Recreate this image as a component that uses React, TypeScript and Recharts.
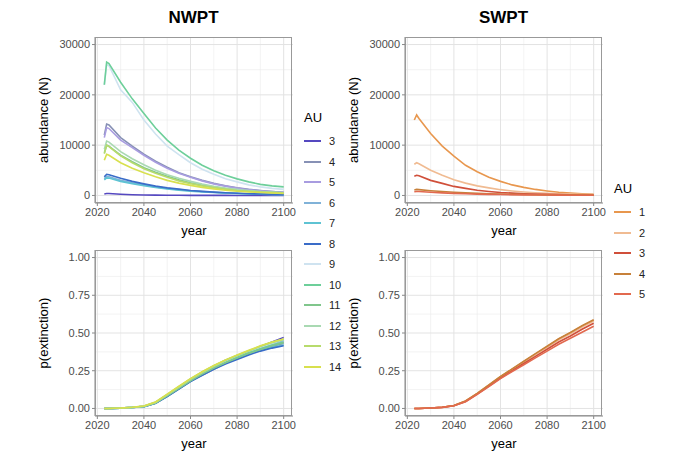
import { LineChart, Line, XAxis, YAxis, CartesianGrid } from 'recharts';

const years = [2023, 2024, 2025, 2030, 2035, 2040, 2045, 2050, 2055, 2060, 2065, 2070, 2075, 2080, 2085, 2090, 2095, 2100];
const xTicks = [2020, 2040, 2060, 2080, 2100];

const nwptAU = ['3', '4', '5', '6', '7', '8', '9', '10', '11', '12', '13', '14'];
const nwptColors = ['#5548c0', '#8791b5', '#a89ce0', '#80b2d8', '#5ec3d3', '#3a6cc8', '#cfe3f0', '#6dcf9a', '#80c68c', '#a9d9b2', '#b7db6c', '#d8e04e'];
const nwptN: number[][] = [
  [300, 400, 380, 250, 150, 100, 60, 40, 30, 20, 15, 10, 8, 5, 4, 3, 2, 2],
  [12000, 14200, 14000, 11500, 9800, 8200, 6800, 5600, 4500, 3700, 3000, 2400, 1900, 1500, 1200, 1000, 800, 650],
  [11500, 13500, 13300, 11000, 9500, 8000, 6600, 5400, 4400, 3600, 2900, 2300, 1850, 1450, 1150, 950, 780, 620],
  [3300, 3800, 3700, 3000, 2500, 2100, 1700, 1400, 1150, 950, 780, 630, 510, 410, 330, 270, 220, 180],
  [3100, 3500, 3450, 2800, 2350, 1950, 1600, 1300, 1050, 870, 710, 580, 470, 380, 300, 250, 200, 160],
  [3700, 4200, 4100, 3400, 2800, 2300, 1850, 1500, 1250, 1000, 820, 660, 540, 430, 350, 290, 230, 190],
  [22000, 26000, 25800, 21000, 18500, 15000, 12200, 9800, 8100, 6500, 5200, 4200, 3300, 2700, 2100, 1700, 1400, 1200],
  [22000, 26500, 26200, 22500, 19200, 16300, 13400, 11000, 9000, 7400, 6000, 4900, 4000, 3300, 2700, 2200, 1900, 1700],
  [8500, 10000, 9800, 8000, 6700, 5500, 4600, 3800, 3100, 2500, 2000, 1650, 1350, 1100, 900, 750, 620, 520],
  [9200, 10800, 10600, 8700, 7300, 6100, 5000, 4100, 3400, 2800, 2250, 1800, 1450, 1200, 980, 800, 660, 550],
  [8300, 10000, 9700, 7900, 6500, 5300, 4400, 3600, 2900, 2350, 1900, 1550, 1250, 1000, 820, 680, 560, 470],
  [7000, 8200, 8000, 6500, 5400, 4500, 3700, 3000, 2450, 2000, 1600, 1300, 1050, 850, 700, 580, 480, 400],
];
const nwptP: number[][] = [
  [0, 0, 0, 0.003, 0.008, 0.015, 0.04, 0.09, 0.14, 0.19, 0.24, 0.28, 0.32, 0.35, 0.38, 0.41, 0.44, 0.47],
  [0, 0, 0, 0.002, 0.006, 0.012, 0.035, 0.08, 0.13, 0.18, 0.22, 0.26, 0.3, 0.33, 0.36, 0.39, 0.41, 0.43],
  [0, 0, 0, 0.002, 0.006, 0.013, 0.037, 0.085, 0.135, 0.185, 0.23, 0.27, 0.31, 0.34, 0.37, 0.4, 0.42, 0.44],
  [0, 0, 0, 0.002, 0.007, 0.014, 0.038, 0.086, 0.137, 0.19, 0.235, 0.275, 0.315, 0.345, 0.375, 0.405, 0.43, 0.45],
  [0, 0, 0, 0.002, 0.006, 0.012, 0.034, 0.08, 0.13, 0.18, 0.225, 0.265, 0.3, 0.33, 0.36, 0.385, 0.405, 0.42],
  [0, 0, 0, 0.002, 0.006, 0.012, 0.034, 0.078, 0.128, 0.178, 0.22, 0.26, 0.295, 0.325, 0.355, 0.38, 0.4, 0.415],
  [0, 0, 0, 0.003, 0.007, 0.014, 0.04, 0.09, 0.14, 0.19, 0.235, 0.275, 0.31, 0.345, 0.375, 0.405, 0.43, 0.46],
  [0, 0, 0, 0.002, 0.007, 0.013, 0.037, 0.085, 0.135, 0.185, 0.23, 0.27, 0.305, 0.34, 0.37, 0.395, 0.42, 0.44],
  [0, 0, 0, 0.002, 0.006, 0.013, 0.036, 0.083, 0.133, 0.183, 0.228, 0.268, 0.303, 0.335, 0.365, 0.39, 0.415, 0.435],
  [0, 0, 0, 0.003, 0.007, 0.015, 0.04, 0.09, 0.142, 0.193, 0.238, 0.28, 0.318, 0.35, 0.38, 0.41, 0.435, 0.455],
  [0, 0, 0, 0.003, 0.008, 0.016, 0.042, 0.093, 0.145, 0.197, 0.242, 0.283, 0.32, 0.352, 0.383, 0.412, 0.438, 0.46],
  [0, 0, 0, 0.003, 0.008, 0.016, 0.043, 0.095, 0.147, 0.198, 0.243, 0.285, 0.322, 0.355, 0.385, 0.415, 0.44, 0.46],
];

const swptAU = ['1', '2', '3', '4', '5'];
const swptColors = ['#e8974e', '#f0bb92', '#d04f3a', '#c7813a', '#e2694f'];
const swptN: number[][] = [
  [15000, 16000, 15300, 12300, 9800, 7800, 6000, 4700, 3600, 2800, 2100, 1600, 1200, 900, 650, 480, 350, 250],
  [6200, 6500, 6300, 5000, 4000, 3100, 2450, 1900, 1500, 1150, 900, 700, 550, 430, 340, 270, 210, 170],
  [3800, 4000, 3900, 3000, 2400, 1800, 1400, 1050, 800, 600, 460, 350, 270, 210, 160, 120, 90, 70],
  [1100, 1200, 1150, 950, 800, 650, 520, 420, 340, 270, 220, 180, 150, 120, 100, 80, 65, 55],
  [750, 800, 780, 640, 520, 420, 340, 270, 220, 180, 150, 120, 100, 80, 65, 55, 45, 35],
];
const swptP: number[][] = [
  [0, 0, 0, 0.003, 0.008, 0.02, 0.05, 0.1, 0.155, 0.21, 0.26, 0.31, 0.36, 0.41, 0.46, 0.5, 0.545, 0.585],
  [0, 0, 0, 0.003, 0.008, 0.019, 0.048, 0.098, 0.152, 0.207, 0.257, 0.307, 0.357, 0.405, 0.455, 0.495, 0.54, 0.58],
  [0, 0, 0, 0.003, 0.007, 0.018, 0.046, 0.095, 0.148, 0.202, 0.25, 0.298, 0.345, 0.392, 0.44, 0.48, 0.525, 0.565],
  [0, 0, 0, 0.003, 0.008, 0.02, 0.05, 0.1, 0.156, 0.212, 0.262, 0.313, 0.363, 0.412, 0.462, 0.503, 0.548, 0.588],
  [0, 0, 0, 0.003, 0.007, 0.018, 0.045, 0.093, 0.145, 0.198, 0.245, 0.29, 0.335, 0.38, 0.425, 0.465, 0.505, 0.545],
];

const font = 'Liberation Sans, Arial, sans-serif';

function table(series: number[][]) {
  return years.map((y, i) => {
    const row: Record<string, number> = { year: y };
    series.forEach((s, j) => (row['s' + j] = s[i]));
    return row;
  });
}

interface PanelProps {
  left: number;
  top: number;
  series: number[][];
  colors: string[];
  yTicks: number[];
  yDomain: [number, number];
  yLabel: string;
  fmt?: (v: number) => string;
}

function Panel({ left, top, series, colors, yTicks, yDomain, yLabel, fmt }: PanelProps) {
  const data = table(series);
  const minorY = yTicks.slice(0, -1).map((t, i) => (t + yTicks[i + 1]) / 2);
  const minorX = [2030, 2050, 2070, 2090];
  return (
    <div style={{ position: 'absolute', left: left - 10, top }}>
      <LineChart width={272} height={208} data={data} margin={{ top: 0, right: 8, bottom: 0, left: 10 }}>
        <CartesianGrid stroke="#ebebeb" strokeWidth={0.6} horizontalValues={minorY} verticalValues={minorX} />
        <CartesianGrid stroke="#e3e3e3" strokeWidth={1} horizontalValues={yTicks} verticalValues={xTicks} />
        <XAxis
          dataKey="year"
          type="number"
          domain={[2019, 2104]}
          ticks={xTicks}
          stroke="#888"
          tick={{ fill: '#4d4d4d', fontSize: 11, fontFamily: font }}
          tickSize={3}
          height={42}
          label={{ value: 'year', position: 'insideBottom', offset: 10, fill: '#000', fontSize: 13, fontFamily: font }}
        />
        <YAxis
          type="number"
          domain={yDomain}
          ticks={yTicks}
          stroke="#888"
          tickFormatter={fmt}
          tick={{ fill: '#4d4d4d', fontSize: 11, fontFamily: font }}
          tickSize={3}
          width={56}
          label={{ value: yLabel, angle: -90, position: 'insideLeft', offset: 4, style: { textAnchor: 'middle' }, fill: '#000', fontSize: 13, fontFamily: font }}
        />
        {series.map((_, j) => (
          <Line key={j} dataKey={'s' + j} stroke={colors[j]} strokeWidth={1.6} dot={false} isAnimationActive={false} />
        ))}
      </LineChart>
      <div style={{ position: 'absolute', left: 66, top: 0, width: 197, height: 166, border: '1px solid #999', boxSizing: 'border-box', pointerEvents: 'none' }} />
    </div>
  );
}

function Legend({ left, top, labels, colors }: { left: number; top: number; labels: string[]; colors: string[] }) {
  return (
    <div style={{ position: 'absolute', left, top, fontFamily: font }}>
      <div style={{ fontSize: 13, marginBottom: 6 }}>AU</div>
      {labels.map((l, i) => (
        <div key={l} style={{ display: 'flex', alignItems: 'center', height: 20.5, fontSize: 11, color: '#222' }}>
          <div style={{ width: 17, height: 2, background: colors[i], marginRight: 8 }} />
          {l}
        </div>
      ))}
    </div>
  );
}

const title = (text: string, left: number) => (
  <div style={{ position: 'absolute', left, top: 8, width: 197, textAlign: 'center', fontFamily: font, fontWeight: 'bold', fontSize: 17 }}>{text}</div>
);

export default function App() {
  const abTicks = [0, 10000, 20000, 30000];
  const pTicks = [0, 0.25, 0.5, 0.75, 1];
  const pFmt = (v: number) => v.toFixed(2);
  return (
    <div style={{ position: 'relative', width: 680, height: 462, background: '#fff', margin: -8 }}>
      {title('NWPT', 95)}
      {title('SWPT', 405)}
      <Panel left={39} top={37} series={nwptN} colors={nwptColors} yTicks={abTicks} yDomain={[-1500, 31500]} yLabel="abundance (N)" />
      <Panel left={349} top={37} series={swptN} colors={swptColors} yTicks={abTicks} yDomain={[-1500, 31500]} yLabel="abundance (N)" />
      <Panel left={39} top={250} series={nwptP} colors={nwptColors} yTicks={pTicks} yDomain={[-0.05, 1.05]} yLabel="p(extinction)" fmt={pFmt} />
      <Panel left={349} top={250} series={swptP} colors={swptColors} yTicks={pTicks} yDomain={[-0.05, 1.05]} yLabel="p(extinction)" fmt={pFmt} />
      <Legend left={304} top={110} labels={nwptAU} colors={nwptColors} />
      <Legend left={614} top={181} labels={swptAU} colors={swptColors} />
    </div>
  );
}
